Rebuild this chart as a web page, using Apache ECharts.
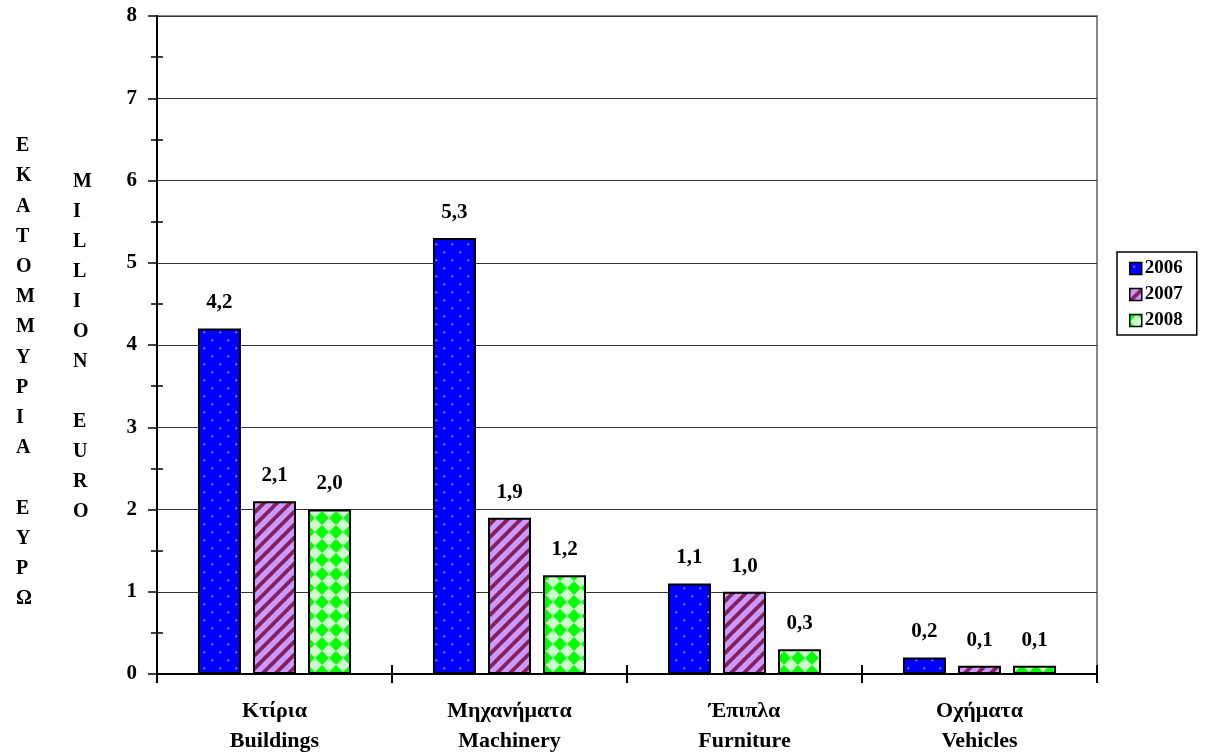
<!DOCTYPE html>
<html>
<head>
<meta charset="utf-8">
<script src="https://cdn.jsdelivr.net/npm/echarts@6/dist/echarts.min.js"></script>
<style>
html,body{margin:0;padding:0;background:#fff;}
#chart{width:1208px;height:756px;}
</style>
</head>
<body>
<div id="chart"></div>
<script>
const categories = ['Κτίρια\nBuildings', 'Μηχανήματα\nMachinery', 'Έπιπλα\nFurniture', 'Οχήματα\nVehicles'];
const seriesNames = ['2006', '2007', '2008'];
const values2006 = [4.2, 5.3, 1.1, 0.2];
const values2007 = [2.1, 1.9, 1.0, 0.1];
const values2008 = [2.0, 1.2, 0.3, 0.1];
const yTitleGreek = 'ΕΚΑΤΟΜΜΥΡΙΑ ΕΥΡΩ';
const yTitleEnglish = 'MILLION EURO';

function dotsPattern() {
  const c = document.createElement('canvas');
  c.width = 16; c.height = 16;
  const g = c.getContext('2d');
  g.fillStyle = '#0000FF'; g.fillRect(0, 0, 16, 16);
  g.fillStyle = '#A8B8FF';
  g.fillRect(3.5, 3.5, 1.6, 1.6);
  g.fillRect(11.5, 11.5, 1.6, 1.6);
  return c;
}
function stripesPattern() {
  const s = 13;
  const c = document.createElement('canvas');
  c.width = s; c.height = s;
  const g = c.getContext('2d');
  g.fillStyle = '#CC99FF'; g.fillRect(0, 0, s, s);
  g.strokeStyle = '#85215F';
  g.lineWidth = 3.8;
  for (let k = -1; k <= 1; k++) {
    g.beginPath();
    g.moveTo(-2 + k * s, s + 2);
    g.lineTo(s + 2 + k * s, -2);
    g.stroke();
  }
  return c;
}
function diamondPattern() {
  const s = 14, r = 7;
  const c = document.createElement('canvas');
  c.width = s; c.height = s;
  const g = c.getContext('2d');
  g.fillStyle = '#CCFFCC'; g.fillRect(0, 0, s, s);
  g.fillStyle = '#00FF00';
  const centers = [[0,0],[s,0],[0,s],[s,s]];
  centers.forEach(([x,y]) => {
    g.beginPath();
    g.moveTo(x, y - r); g.lineTo(x + r, y); g.lineTo(x, y + r); g.lineTo(x - r, y);
    g.closePath(); g.fill();
  });
  return c;
}

const patterns = [
  { image: dotsPattern(), repeat: 'repeat' },
  { image: stripesPattern(), repeat: 'repeat' },
  { image: diamondPattern(), repeat: 'repeat' }
];
const dataSets = [values2006, values2007, values2008];
const FONT = 'Liberation Serif';

const chart = echarts.init(document.getElementById('chart'));
const option = {
  backgroundColor: '#fff',
  animation: false,
  grid: {
    left: 157, right: 111, top: 16, bottom: 82,
    show: true, borderColor: '#888', borderWidth: 2
  },
  legend: {
    orient: 'vertical',
    left: 1117, top: 252,
    data: seriesNames,
    icon: 'rect',
    itemWidth: 12, itemHeight: 12,
    itemGap: 7,
    padding: [7, 14, 5, 12],
    borderColor: '#000', borderWidth: 1.5,
    itemStyle: { borderColor: '#000', borderWidth: 1.5 },
    textStyle: { fontFamily: FONT, fontWeight: 'bold', fontSize: 19, color: '#000', padding: [0,0,0,-2] }
  },
  xAxis: [{
    type: 'category',
    data: categories,
    boundaryGap: true,
    axisLine: { lineStyle: { color: '#000', width: 2 } },
    axisTick: { show: true, length: 9, lineStyle: { color: '#000', width: 2 } },
    axisLabel: {
      interval: 0, margin: 22,
      fontFamily: FONT, fontWeight: 'bold', fontSize: 22, color: '#000', lineHeight: 30
    },
    splitLine: { show: false }
  }, {
    type: 'category',
    data: categories,
    position: 'bottom',
    boundaryGap: true,
    axisLine: { show: false },
    axisTick: { show: true, inside: true, length: 9, lineStyle: { color: '#000', width: 2 } },
    axisLabel: { show: false },
    splitLine: { show: false }
  }],
  yAxis: [{
    type: 'value',
    min: 0, max: 8, interval: 1,
    axisLine: { show: true, lineStyle: { color: '#000', width: 2 } },
    axisTick: { show: true, length: 9, lineStyle: { color: '#000', width: 1.5 } },
    minorTick: { show: true, splitNumber: 2, length: 6, lineStyle: { color: '#000', width: 1.5 } },
    axisLabel: { margin: 20, fontFamily: FONT, fontWeight: 'bold', fontSize: 21, color: '#000' },
    splitLine: { show: true, lineStyle: { color: '#333', width: 1 } }
  }, {
    type: 'value',
    position: 'left',
    min: 0, max: 8, interval: 1,
    axisLine: { show: false },
    axisTick: { show: false, inside: true },
    minorTick: { show: true, splitNumber: 2, length: 6, lineStyle: { color: '#000', width: 1.5 } },
    axisLabel: { show: false },
    splitLine: { show: false }
  }],
  series: seriesNames.map((name, i) => ({
    name: name,
    type: 'bar',
    data: dataSets[i],
    barWidth: 43,
    barGap: '28%',
    itemStyle: { color: patterns[i], borderColor: '#000', borderWidth: 2 },
    label: {
      show: true, position: 'top', distance: 15,
      fontFamily: FONT, fontWeight: 'bold', fontSize: 21, color: '#000',
      formatter: p => p.value.toFixed(1).replace('.', ',')
    }
  })),
  graphic: [
    {
      type: 'text', left: 16, top: 131,
      style: {
        text: yTitleGreek.split('').join('\n'),
        fontFamily: FONT, fontWeight: 'bold', fontSize: 20, lineHeight: 30.2,
        fill: '#000', align: 'center', width: 20
      }
    },
    {
      type: 'text', left: 73, top: 167,
      style: {
        text: yTitleEnglish.split('').join('\n'),
        fontFamily: FONT, fontWeight: 'bold', fontSize: 20, lineHeight: 30,
        fill: '#000', align: 'center', width: 20
      }
    }
  ]
};
chart.setOption(option);
</script>
</body>
</html>
